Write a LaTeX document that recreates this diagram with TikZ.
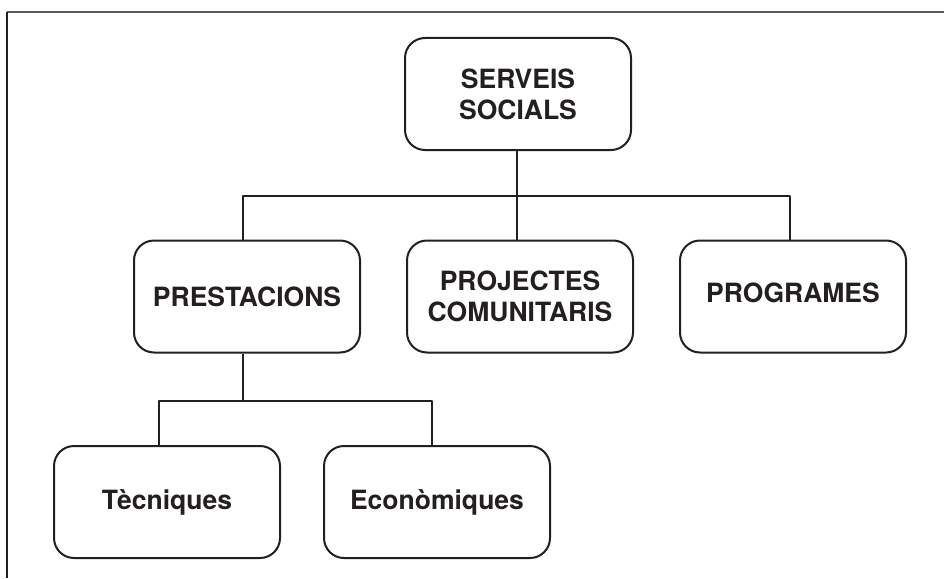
\documentclass[tikz,border=0pt]{standalone}
\usepackage{fontspec}
\setmainfont{TeX Gyre Heros}
\usetikzlibrary{positioning}
\definecolor{ink}{HTML}{231F20}
\definecolor{rulegray}{HTML}{58595B}

\begin{document}
\begin{tikzpicture}[x=1pt, y=-1pt, line join=round,
    box/.style={draw=ink, line width=2pt, rounded corners=20pt,
      minimum width=226pt, minimum height=112pt, inner sep=0pt,
      align=center, text=ink, font=\fontsize{26.5}{31}\selectfont\bfseries},
    link/.style={draw=ink, line width=2pt}]
  \useasboundingbox (0,0) rectangle (944,578);

  %--- frame (top and left only) ------------------------------------------
  \coordinate (F0) at (7,12);
  \draw[rulegray, line width=1.6pt] (F0) -- (944,12);
  \draw[ink, line width=1.6pt] (F0) -- (7,578);

  %--- boxes ---------------------------------------------------------------
  \node[box] (ss) at (518,94) {SERVEIS\\SOCIALS};

  \node[box] (pre) at (247,296.5) {PRESTACIONS};
  \node[box, right=45pt of pre] (pro) {PROJECTES\\COMUNITARIS};
  \node[box, right=45pt of pro] (prg) {\raisebox{8pt}{PROGRAMES}};

  \node[box] (tec) at (167,502) {Tècniques};
  \node[box, right=42pt of tec] (eco) {Econòmiques};

  %--- connectors ----------------------------------------------------------
  \draw[link] ([xshift=-1pt]ss.south) -- ([xshift=-3pt]pro.north);
  \draw[link] ([xshift=-4pt]pre.north) -- ++(0,-44) -| ([xshift=-3pt]prg.north);

  \draw[link] ([xshift=-4pt]pre.south) -- ++(0,47) coordinate (split);
  \draw[link] ([xshift=-8pt]tec.north) |- (split) -| ([xshift=-5pt]eco.north);
\end{tikzpicture}
\end{document}
